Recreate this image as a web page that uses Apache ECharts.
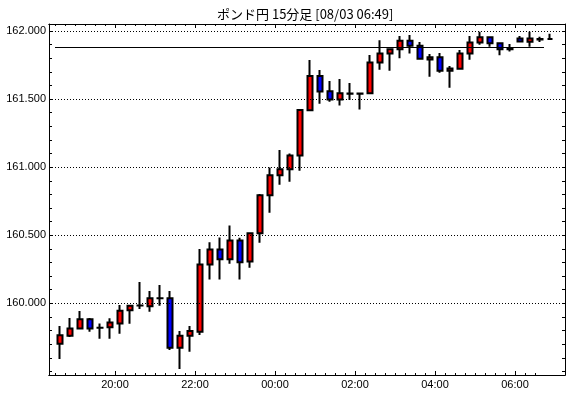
<!DOCTYPE html>
<html>
<head>
<meta charset="utf-8">
<script src="https://cdn.jsdelivr.net/npm/echarts@6/dist/echarts.min.js"></script>
<style>
html, body { margin: 0; padding: 0; background: #fff; }
#main { width: 570px; height: 398px; }
</style>
</head>
<body>
<div id="main"></div>
<script>
// 15分足 18:30 - 06:45
const categories = [
    '18:30', '18:45', '19:00', '19:15', '19:30', '19:45', '20:00', '20:15', '20:30', '20:45',
    '21:00', '21:15', '21:30', '21:45', '22:00', '22:15', '22:30', '22:45', '23:00', '23:15',
    '23:30', '23:45', '00:00', '00:15', '00:30', '00:45', '01:00', '01:15', '01:30', '01:45',
    '02:00', '02:15', '02:30', '02:45', '03:00', '03:15', '03:30', '03:45', '04:00', '04:15',
    '04:30', '04:45', '05:00', '05:15', '05:30', '05:45', '06:00', '06:15', '06:30', '06:45'
];
const opens = [
    159.704, 159.763, 159.816, 159.883, 159.821, 159.824, 159.853, 159.949, 159.984, 159.978,
    160.037, 160.037, 159.674, 159.763, 159.792, 160.286, 160.396, 160.323, 160.462, 160.308,
    160.514, 160.793, 160.940, 160.984, 161.086, 161.417, 161.669, 161.557, 161.497, 161.539,
    161.539, 161.542, 161.769, 161.835, 161.865, 161.928, 161.892, 161.791, 161.806, 161.708,
    161.723, 161.835, 161.916, 161.953, 161.909, 161.865, 161.945, 161.921, 161.938, 161.940
];
const closes = [
    159.765, 159.816, 159.883, 159.816, 159.820, 159.860, 159.946, 159.983, 159.985, 160.037,
    160.038, 159.674, 159.763, 159.797, 160.286, 160.396, 160.323, 160.462, 160.301, 160.514,
    160.793, 160.940, 160.984, 161.086, 161.419, 161.669, 161.556, 161.497, 161.542, 161.541,
    161.540, 161.769, 161.835, 161.865, 161.928, 161.892, 161.796, 161.806, 161.708, 161.725,
    161.835, 161.916, 161.953, 161.909, 161.865, 161.874, 161.922, 161.945, 161.940, 161.940
];
const lows = [
    159.591, 159.753, 159.814, 159.792, 159.741, 159.741, 159.777, 159.851, 159.958, 159.939,
    159.983, 159.657, 159.518, 159.645, 159.767, 160.176, 160.176, 160.291, 160.176, 160.262,
    160.445, 160.665, 160.871, 160.893, 160.974, 161.415, 161.466, 161.480, 161.453, 161.493,
    161.424, 161.542, 161.715, 161.708, 161.799, 161.835, 161.789, 161.664, 161.693, 161.583,
    161.720, 161.789, 161.899, 161.884, 161.821, 161.850, 161.917, 161.884, 161.919, 161.935
];
const highs = [
    159.834, 159.892, 159.944, 159.892, 159.853, 159.890, 159.988, 159.983, 160.157, 160.091,
    160.135, 160.091, 159.797, 159.834, 160.399, 160.448, 160.484, 160.572, 160.482, 160.521,
    160.802, 160.998, 161.126, 161.101, 161.424, 161.786, 161.713, 161.632, 161.647, 161.617,
    161.545, 161.823, 161.931, 161.865, 161.963, 161.970, 161.918, 161.830, 161.838, 161.742,
    161.860, 161.963, 161.994, 161.953, 161.909, 161.904, 161.963, 161.994, 161.958, 161.980
];
const timeLabels = ['20:00', '22:00', '00:00', '02:00', '04:00', '06:00'];
const priceLabels = [160.0, 160.5, 161.0, 161.5, 162.0];
const priceTicks = [
    159.5, 159.6, 159.7, 159.8, 159.9, 160.0, 160.1, 160.2, 160.3, 160.4, 160.5, 160.6, 160.7,
    160.8, 160.9, 161.0, 161.1, 161.2, 161.3, 161.4, 161.5, 161.6, 161.7, 161.8, 161.9, 162.0
];
const refLine = 161.88;
const refLineSpan = [-0.5, 48.4];

const chart = echarts.init(document.getElementById('main'), null, { renderer: 'canvas' });

const ohlc = categories.map(function (c, i) {
    return [i, opens[i], closes[i], lows[i], highs[i]];
});
// 目盛りは足の境目
const timeTicks = categories.slice(0, categories.length - 1).map(function (c, i) { return i - 0.5; });
const timeMajor = timeLabels.map(function (t) { return categories.indexOf(t) - 0.5; });

const xRange = { min: -1.1, max: 50.5 };
const yRange = { min: 159.474, max: 162.051 };
const font = { fontFamily: 'Liberation Sans', fontSize: 11, color: '#000' };

function xAxisOf(position, ticks, len, labels) {
    return {
        type: 'value',
        position: position,
        min: xRange.min,
        max: xRange.max,
        axisLine: { show: true, onZero: false, lineStyle: { color: '#000', width: 1 } },
        axisTick: { show: true, inside: true, length: len, customValues: ticks, lineStyle: { color: '#000' } },
        axisLabel: labels ? Object.assign({
            show: true,
            margin: 4,
            customValues: timeMajor,
            formatter: function (v) { return categories[Math.round(v + 0.5)]; }
        }, font) : { show: false },
        splitLine: { show: false }
    };
}

function yAxisOf(position, labels) {
    return {
        type: 'value',
        position: position,
        min: yRange.min,
        max: yRange.max,
        axisLine: { show: true, onZero: false, lineStyle: { color: '#000', width: 1 } },
        axisTick: { show: true, inside: true, length: 3, customValues: priceTicks, lineStyle: { color: '#000' } },
        axisLabel: labels ? Object.assign({
            show: true,
            margin: 3,
            customValues: priceLabels,
            formatter: function (v) { return v.toFixed(3); }
        }, font) : { show: false },
        splitLine: { show: false }
    };
}

const option = {
    animation: false,
    backgroundColor: '#fff',
    title: {
        text: 'ポンド円 15分足 [08/03 06:49]',
        left: 217,
        top: 8,
        padding: 0,
        textStyle: {
            fontFamily: 'Noto Sans CJK JP',
            fontSize: 13,
            fontWeight: 'normal',
            color: '#000'
        }
    },
    grid: { left: 49, right: 5, top: 24, bottom: 23 },
    xAxis: [
        xAxisOf('bottom', timeTicks, 2, true),
        xAxisOf('top', timeTicks, 2, false),
        xAxisOf('bottom', timeMajor, 4, false),
        xAxisOf('top', timeMajor, 4, false)
    ],
    yAxis: [
        yAxisOf('left', true),
        yAxisOf('right', false)
    ],
    series: [{
        type: 'candlestick',
        xAxisIndex: 0,
        yAxisIndex: 0,
        encode: { x: 0, y: [1, 2, 3, 4] },
        barWidth: 6,
        data: ohlc,
        itemStyle: {
            color: '#ff0000',
            color0: '#0000ff',
            borderColor: '#000',
            borderColor0: '#000',
            borderColorDoji: '#000',
            borderWidth: 2
        },
        markLine: {
            silent: true,
            symbol: 'none',
            label: { show: false },
            animation: false,
            data: priceLabels.map(function (p) {
                return { yAxis: p, lineStyle: { type: [1, 2], color: '#000', width: 1 } };
            }).concat([[
                { coord: [refLineSpan[0], refLine], lineStyle: { type: 'solid', color: '#000', width: 1 } },
                { coord: [refLineSpan[1], refLine] }
            ]])
        }
    }]
};

chart.setOption(option);
</script>
</body>
</html>
